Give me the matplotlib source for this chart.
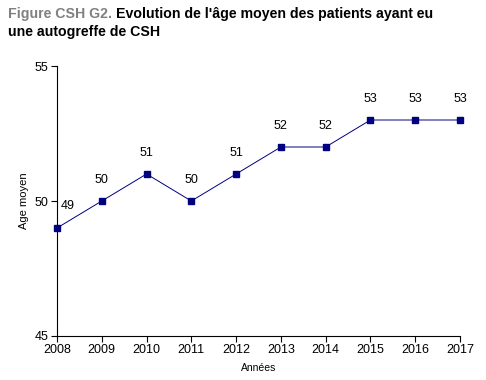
import matplotlib
matplotlib.use("Agg")
import matplotlib.pyplot as plt

years = [2008, 2009, 2010, 2011, 2012, 2013, 2014, 2015, 2016, 2017]
ages = [49, 50, 51, 50, 51, 52, 52, 53, 53, 53]
yticks = [45, 50, 55]

plt.rcParams['font.family'] = ['Liberation Sans', 'DejaVu Sans']

fig = plt.figure(figsize=(4.86, 3.8), dpi=100)
ax = fig.add_axes([0.1173, 0.1158, 0.8292, 0.7105])
ax.plot(years, ages, color='#000080', linewidth=0.7, marker='s', markersize=5,
        markerfacecolor='#000080', markeredgecolor='#000080', clip_on=False, zorder=3)
for i, (x, y) in enumerate(zip(years, ages)):
    if i == 0:
        ax.annotate(str(y), (x, y), xytext=(11, 22), textcoords='offset pixels',
                    ha='center', va='center', fontsize=9)
    else:
        ax.annotate(str(y), (x, y), xytext=(0, 21), textcoords='offset pixels',
                    ha='center', va='center', fontsize=9)

ax.set_xlim(2008, 2017)
ax.set_ylim(45, 55)
ax.set_xticks(years)
ax.set_yticks(yticks)
ax.tick_params(axis='both', labelsize=9, length=4, width=0.8, direction='out', pad=2)
for s in ['top', 'right']:
    ax.spines[s].set_visible(False)
for s in ['left', 'bottom']:
    ax.spines[s].set_linewidth(0.8)
ax.set_xlabel('Années', fontsize=7.5, labelpad=5)
ax.set_ylabel('Age moyen', fontsize=8, labelpad=4)

fs = 10.2
t1 = fig.text(8/486, 1 - 14/380, 'Figure CSH G2.', color='#808080', fontsize=fs, fontweight='bold', va='center', ha='left')
fig.canvas.draw()
bb = t1.get_window_extent(renderer=fig.canvas.get_renderer())
x2 = (bb.x1 + 4) / fig.bbox.width
fig.text(x2, 1 - 14/380, "Evolution de l'âge moyen des patients ayant eu", color='black',
         fontsize=fs, fontweight='bold', va='center', ha='left')
fig.text(8/486, 1 - 32/380, 'une autogreffe de CSH', color='black', fontsize=fs, fontweight='bold', va='center', ha='left')

fig.savefig('out.png', dpi=100)
